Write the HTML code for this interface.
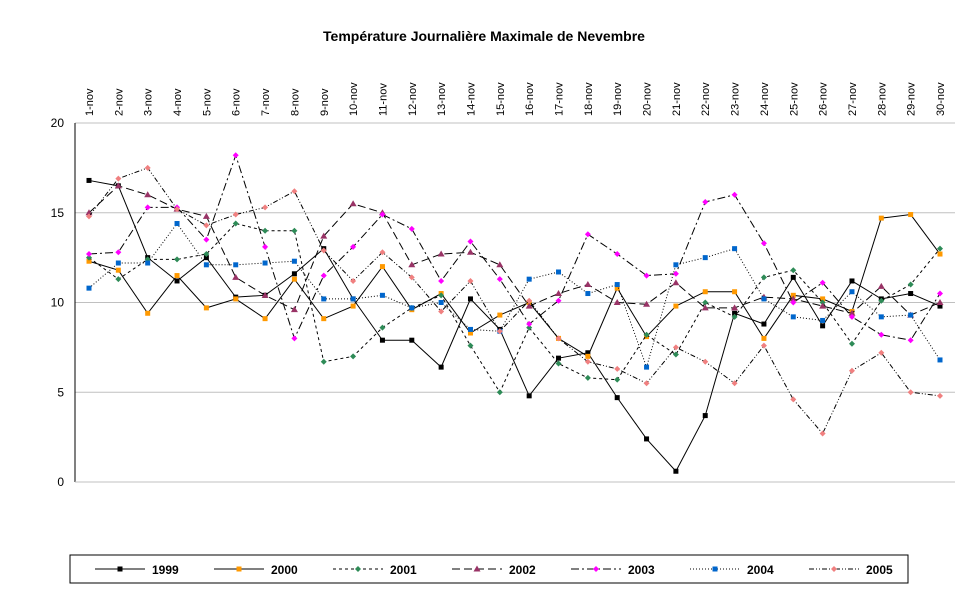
<!DOCTYPE html>
<html><head><meta charset="utf-8"><style>
body{margin:0;background:#fff;}
svg text{font-family:"Liberation Sans",sans-serif;}
</style></head><body>
<svg id="chart" width="969" height="604" viewBox="0 0 969 604" xmlns="http://www.w3.org/2000/svg">
<text x="484" y="41" text-anchor="middle" font-size="14" font-weight="bold">Température Journalière Maximale de Nevembre</text>
<g id="grid"></g><g id="axes"></g><g id="series"></g>
<g id="legend"><rect x="70" y="555" width="838" height="28" fill="#fff" stroke="#000"/></g>
</svg>
<script>
const categories=["1-nov","2-nov","3-nov","4-nov","5-nov","6-nov","7-nov","8-nov","9-nov","10-nov","11-nov","12-nov","13-nov","14-nov","15-nov","16-nov","17-nov","18-nov","19-nov","20-nov","21-nov","22-nov","23-nov","24-nov","25-nov","26-nov","27-nov","28-nov","29-nov","30-nov"];
const yTicks=[0,5,10,15,20];
const s1999=[16.8,16.5,12.5,11.2,12.5,10.3,10.4,11.6,13.0,10.2,7.9,7.9,6.4,10.2,8.5,4.8,6.9,7.2,4.7,2.4,0.6,3.7,9.4,8.8,11.4,8.7,11.2,10.2,10.5,9.8];
const s2000=[12.3,11.8,9.4,11.5,9.7,10.2,9.1,11.3,9.1,9.8,12.0,9.6,10.5,8.3,9.3,10.0,8.0,7.0,10.8,8.1,9.8,10.6,10.6,8.0,10.4,10.2,9.5,14.7,14.9,12.7];
const s2001=[12.5,11.3,12.4,12.4,12.7,14.4,14.0,14.0,6.7,7.0,8.6,9.7,10.4,7.6,5.0,8.6,6.6,5.8,5.7,8.2,7.1,10.0,9.2,11.4,11.8,10.0,7.7,10.1,11.0,13.0];
const s2002=[15.0,16.5,16.0,15.2,14.8,11.4,10.4,9.6,13.7,15.5,15.0,12.1,12.7,12.8,12.1,9.8,10.5,11.0,10.0,9.9,11.1,9.7,9.7,10.3,10.2,9.8,9.4,10.9,9.3,10.0];
const s2003=[12.7,12.8,15.3,15.3,13.5,18.2,13.1,8.0,11.5,13.1,14.9,14.1,11.2,13.4,11.3,8.8,10.1,13.8,12.7,11.5,11.6,15.6,16.0,13.3,10.0,11.1,9.2,8.2,7.9,10.5];
const s2004=[10.8,12.2,12.2,14.4,12.1,12.1,12.2,12.3,10.2,10.2,10.4,9.7,10.0,8.5,8.4,11.3,11.7,10.5,11.0,6.4,12.1,12.5,13.0,10.2,9.2,9.0,10.6,9.2,9.3,6.8];
const s2005=[14.8,16.9,17.5,15.2,14.3,14.9,15.3,16.2,12.9,11.2,12.8,11.4,9.5,11.2,8.4,10.1,8.0,6.7,6.3,5.5,7.5,6.7,5.5,7.6,4.6,2.7,6.2,7.2,5.0,4.8];
const seriesNames=["1999","2000","2001","2002","2003","2004","2005"];
const seriesData=[s1999,s2000,s2001,s2002,s2003,s2004,s2005];
const styles=[
 {c:"#000",d:"",m:"sq"},{c:"#f90",d:"",m:"sq"},{c:"#2e8b57",d:"3,3",m:"di"},
 {c:"#993366",d:"8,4",m:"tri"},{c:"#f0f",d:"8,3,2,3",m:"di"},{c:"#0066cc",d:"1,2",m:"sq"},{c:"#f08080",d:"5,2,1,2,1,2",m:"di"}];
const NS="http://www.w3.org/2000/svg";
const x0=89,x1=940,y0=482,y20=123;
function xs(i){return x0+(x1-x0)*i/(categories.length-1);}
function ys(v){return y0-(y0-y20)*v/20;}
function mk(tag,attrs,parent){const e=document.createElementNS(NS,tag);for(const k in attrs)e.setAttribute(k,attrs[k]);parent.appendChild(e);return e;}
const grid=document.getElementById('grid'),axes=document.getElementById('axes'),ser=document.getElementById('series'),leg=document.getElementById('legend');
yTicks.forEach(t=>{
 if(t>0){const l=mk('line',{x1:75,x2:955,y1:ys(t),y2:ys(t),stroke:'#c0c0c0','stroke-width':1},grid);
 
 }
 const tx=mk('text',{x:64,y:ys(t)+4,'text-anchor':'end','font-size':12},axes);tx.textContent=t;
 
 
});
const ya=mk('line',{x1:75,x2:75,y1:y20,y2:y0,stroke:'#000'},axes);


const xa=mk('line',{x1:75,x2:955,y1:y0,y2:y0,stroke:'#c0c0c0'},axes);


categories.forEach((c,i)=>{
 const tx=mk('text',{x:0,y:0,'font-size':11,transform:`translate(${xs(i)+4},116) rotate(-90)`},axes);tx.textContent=c;
 
 
});
function marker(type,x,y,col,parent){
 let e;
 if(type==='sq')e=mk('rect',{x:x-2.5,y:y-2.5,width:5,height:5,fill:col},parent);
 else if(type==='tri')e=mk('polygon',{points:`${x},${y-3.5} ${x+3.5},${y+2.5} ${x-3.5},${y+2.5}`,fill:col},parent);
 else e=mk('polygon',{points:`${x},${y-3} ${x+3},${y} ${x},${y+3} ${x-3},${y}`,fill:col},parent);
 return e;
}
seriesData.forEach((data,si)=>{
 const st=styles[si];
 const g=mk('g',{},ser);
 
 
 const pl=mk('polyline',{points:data.map((v,i)=>xs(i)+','+ys(v)).join(' '),fill:'none',stroke:'#000','stroke-width':1,'stroke-dasharray':st.d},g);
 
 
 data.forEach((v,i)=>{const m=marker(st.m,xs(i),ys(v),st.c,g);
  
  });
 const lx=95+si*119;
 const lg=mk('g',{},leg);
 
 
 mk('line',{x1:lx,x2:lx+50,y1:569,y2:569,stroke:'#000','stroke-dasharray':st.d},lg);
 marker(st.m,lx+25,569,st.c,lg);
 const t=mk('text',{x:lx+57,y:574,'font-size':12,'font-weight':'bold'},lg);t.textContent=seriesNames[si];
});
</script>
</body></html>
